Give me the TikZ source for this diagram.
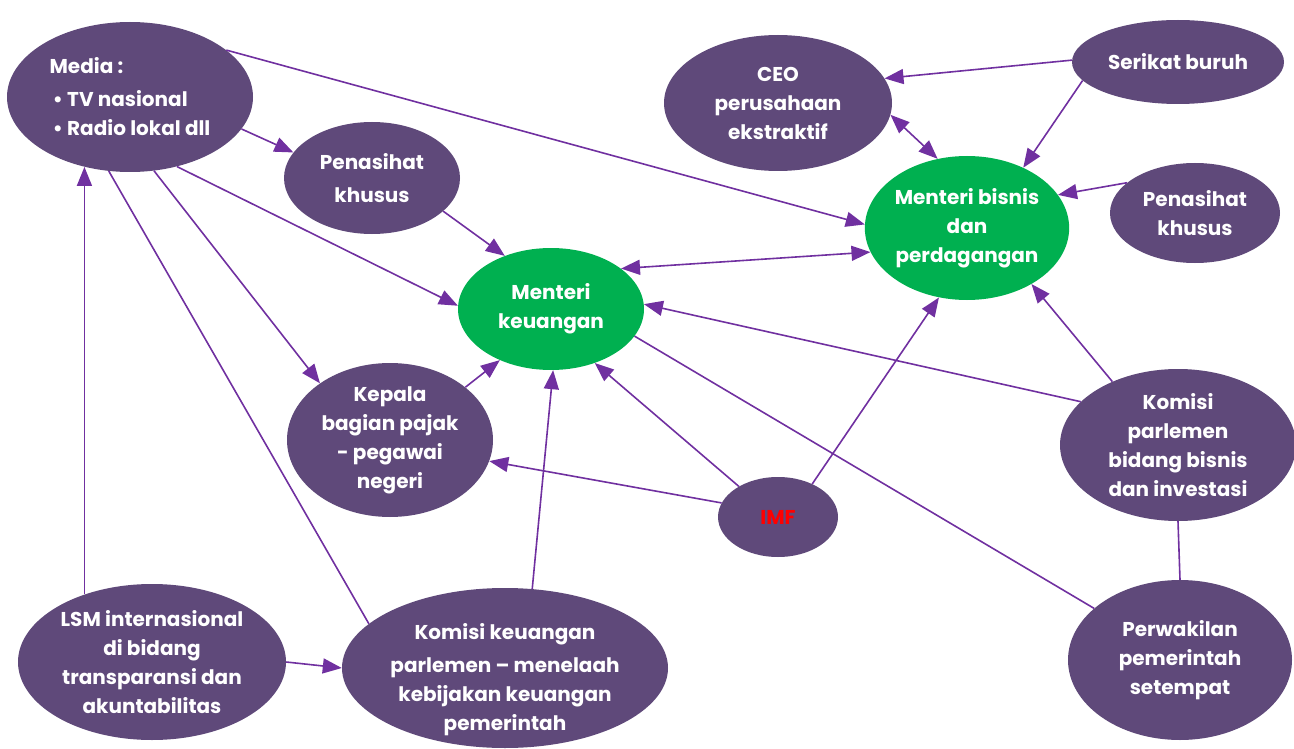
\documentclass[tikz,border=0pt]{standalone}
\usepackage{fontspec}
\setmainfont{Poppins}
\usetikzlibrary{shapes.geometric,arrows.meta}
\definecolor{nodepurple}{HTML}{5F497A}
\definecolor{nodegreen}{HTML}{00B050}
\definecolor{linkpurple}{HTML}{7030A0}
\begin{document}
\begin{tikzpicture}[x=1pt,y=-1pt,
  actor/.style={ellipse,fill=nodepurple,draw=none,inner sep=0pt,text=white,
    align=center,font=\fontsize{20}{29}\selectfont\bfseries},
  minister/.style={actor,fill=nodegreen},
  link/.style={draw=linkpurple,line width=1.6pt},
  tip/.style={link,-{Triangle[length=19pt,width=15pt]}},
  both/.style={link,{Triangle[length=19pt,width=15pt]}-{Triangle[length=19pt,width=15pt]}}]
\useasboundingbox (0,0) rectangle (1294,749);

% actors
\node[actor,minimum width=246pt,minimum height=150pt,align=left] (media) at (130,97)
  {Media :\\[4pt]\,\textbullet\ TV nasional\\\,\textbullet\ Radio lokal dll};
\node[actor,minimum width=176pt,minimum height=112pt] (penl) at (372,178) {Penasihat\\[4pt]khusus};
\node[actor,minimum width=228pt,minimum height=136pt] (ceo) at (778,103) {CEO\\perusahaan\\ekstraktif};
\node[actor,minimum width=212pt,minimum height=84pt] (serikat) at (1178,62) {Serikat buruh};
\node[minister,minimum width=190pt,minimum height=144pt] (mb) at (967,228) {Menteri bisnis\\dan\\perdagangan};
\node[actor,minimum width=170pt,minimum height=100pt] (penr) at (1195,213) {Penasihat\\khusus};
\node[minister,minimum width=186pt,minimum height=122pt] (mk) at (551,309) {Menteri\\keuangan};
\node[actor,minimum width=206pt,minimum height=154pt] (kepala) at (390,440) {Kepala\\bagian pajak\\- pegawai\\negeri};
\node[actor,minimum width=236pt,minimum height=152pt] (kb) at (1178,445) {Komisi\\parlemen\\bidang bisnis\\dan investasi};
\node[actor,minimum width=120pt,minimum height=80pt,text=red] (imf) at (778,517) {IMF};
\node[actor,minimum width=268pt,minimum height=156pt] (lsm) at (152,662)
  {LSM internasional\\di bidang\\transparansi dan\\akuntabilitas};
% text block sits a little below the ellipse centre
\node[actor,minimum width=326pt,minimum height=160pt] (kk) at (505,668)
  {\raisebox{-16pt}[0pt][0pt]{\begin{tabular}{@{}c@{}}Komisi keuangan\\[4pt]parlemen -- menelaah\\kebijakan keuangan\\pemerintah\end{tabular}}};
\node[actor,minimum width=224pt,minimum height=160pt] (pw) at (1180,660) {Perwakilan\\pemerintah\\setempat};

% relations
\draw[tip] (media.26) -- (mb.178);
\draw[tip] (media.-16) -- (penl.162);
\draw[tip] (media.-56) -- (mk.178);
\draw[tip] (media.-72) -- (kepala.141);
\draw[link] (media.-106) -- (kk.162);
\draw[tip] (lsm.135) -- (lsm.135 |- media.-123);
\draw[tip] (lsm.east) -- (kk.west);
\draw[tip] (kk.71) -- (mk.-88);
\draw[tip] (penl.-25) -- (mk.131);
\draw[tip] (kepala.35) -- (mk.-135);
\draw[tip] (imf.166) -- (kepala.-12);
\draw[tip] (imf.142) -- (mk.-51);
\draw[tip] (imf.44) -- (mb.-112);
\draw[both] (mk.30) -- (mb.-166);
\draw[tip] (kb.156) -- (mk.3);
\draw[tip] (kb.136) -- (mb.-41);
\draw[link] (mk.-18) -- (pw.149);
\draw[link] (kb.south) -- (pw.north);
\draw[tip] (serikat.179) -- (ceo.13);
\draw[tip] (serikat.-169) -- (mb.47);
\draw[both] (ceo.-6) -- (mb.113);
\draw[tip] (penr.156) -- (mb.20);
\end{tikzpicture}
\end{document}
